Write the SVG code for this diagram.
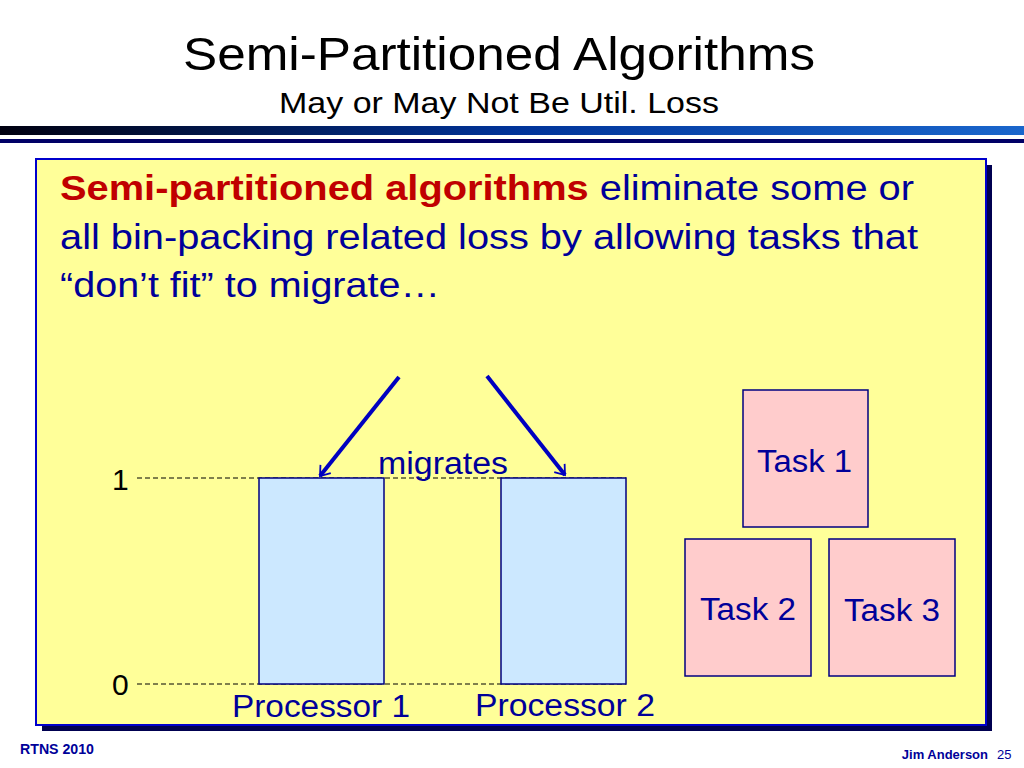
<svg xmlns="http://www.w3.org/2000/svg" width="1024" height="768" viewBox="0 0 1024 768">
<defs>
<linearGradient id="g" x1="0" x2="1" y1="0" y2="0"><stop offset="0" stop-color="#000010"/><stop offset="0.5" stop-color="#003399"/><stop offset="1" stop-color="#1a66cc"/></linearGradient>
<marker id="ah" viewBox="0 0 10 10" refX="9" refY="5" markerWidth="6" markerHeight="6" markerUnits="userSpaceOnUse" orient="auto" overflow="visible"><path d="M-6,-6 L9,5 L-6,16" fill="none" stroke="#0000c0" stroke-width="3"/></marker>
</defs>
<style>
.s{font-family:"Liberation Sans",Arial,sans-serif}
.proc{fill:#cce8ff;stroke:#000080;stroke-width:1.5}
.task{fill:#ffcccc;stroke:#000080;stroke-width:1.5}
.dash{stroke:#000;stroke-width:1;stroke-dasharray:5,3}
.lab{font-size:31px;fill:#000099}
</style>
<rect width="1024" height="768" fill="#fff"/>
<text class="s" x="183" y="70" font-size="47" textLength="632" lengthAdjust="spacingAndGlyphs">Semi-Partitioned Algorithms</text>
<text class="s" x="279" y="113" font-size="29" textLength="440" lengthAdjust="spacingAndGlyphs">May or May Not Be Util. Loss</text>
<rect x="0" y="126" width="1024" height="9" fill="url(#g)"/>
<rect x="0" y="139" width="1024" height="4" fill="#000066"/>
<rect x="42" y="165" width="950" height="566" fill="#000050"/>
<rect x="36" y="159" width="950" height="566" fill="#ffff99" stroke="#0000cc" stroke-width="2"/>
<text class="s" font-size="35" x="60" y="200" textLength="854" lengthAdjust="spacingAndGlyphs"><tspan fill="#c00000" font-weight="bold">Semi-partitioned algorithms</tspan><tspan fill="#000099"> eliminate some or</tspan></text>
<text class="s" font-size="35" x="60" y="249" fill="#000099" textLength="858" lengthAdjust="spacingAndGlyphs">all bin-packing related loss by allowing tasks that</text>
<text class="s" font-size="35" x="60" y="297" fill="#000099" textLength="380" lengthAdjust="spacingAndGlyphs">“don’t fit” to migrate…</text>
<g id="axes">
<line class="dash" x1="137" y1="478" x2="626" y2="478"/>
<line class="dash" x1="137" y1="684" x2="626" y2="684"/>
<text class="s" x="112" y="490" font-size="30">1</text>
<text class="s" x="112" y="695" font-size="30">0</text>
</g>
<g id="p1"><rect class="proc" x="259" y="478" width="125" height="206"/><text class="s lab" x="232" y="717" textLength="178" lengthAdjust="spacingAndGlyphs">Processor 1</text></g>
<g id="p2"><rect class="proc" x="501" y="478" width="125" height="206"/><text class="s lab" x="475" y="716" textLength="180" lengthAdjust="spacingAndGlyphs">Processor 2</text></g>
<g id="t1"><rect class="task" x="743" y="390" width="125" height="137"/><text class="s lab" x="757" y="472" textLength="95" lengthAdjust="spacingAndGlyphs">Task 1</text></g>
<g id="t2"><rect class="task" x="685" y="539" width="126" height="137"/><text class="s lab" x="700" y="620" textLength="96" lengthAdjust="spacingAndGlyphs">Task 2</text></g>
<g id="t3"><rect class="task" x="829" y="539" width="126" height="137"/><text class="s lab" x="844" y="621" textLength="96" lengthAdjust="spacingAndGlyphs">Task 3</text></g>
<g id="connectors" stroke="#0000c0" stroke-width="4" fill="none">
<line x1="399" y1="377" x2="320" y2="476" marker-end="url(#ah)"/>
<line x1="487" y1="376" x2="565" y2="475" marker-end="url(#ah)"/>
</g>
<text class="s lab" x="378" y="474" textLength="130" lengthAdjust="spacingAndGlyphs">migrates</text>
<text class="s" x="20" y="754" font-size="14" font-weight="bold" fill="#000099" textLength="74" lengthAdjust="spacingAndGlyphs">RTNS 2010</text>
<text class="s" x="988" y="759" font-size="13" font-weight="bold" fill="#000099" text-anchor="end">Jim Anderson</text>
<text class="s" x="997" y="759" font-size="13" fill="#000099">25</text>
</svg>
